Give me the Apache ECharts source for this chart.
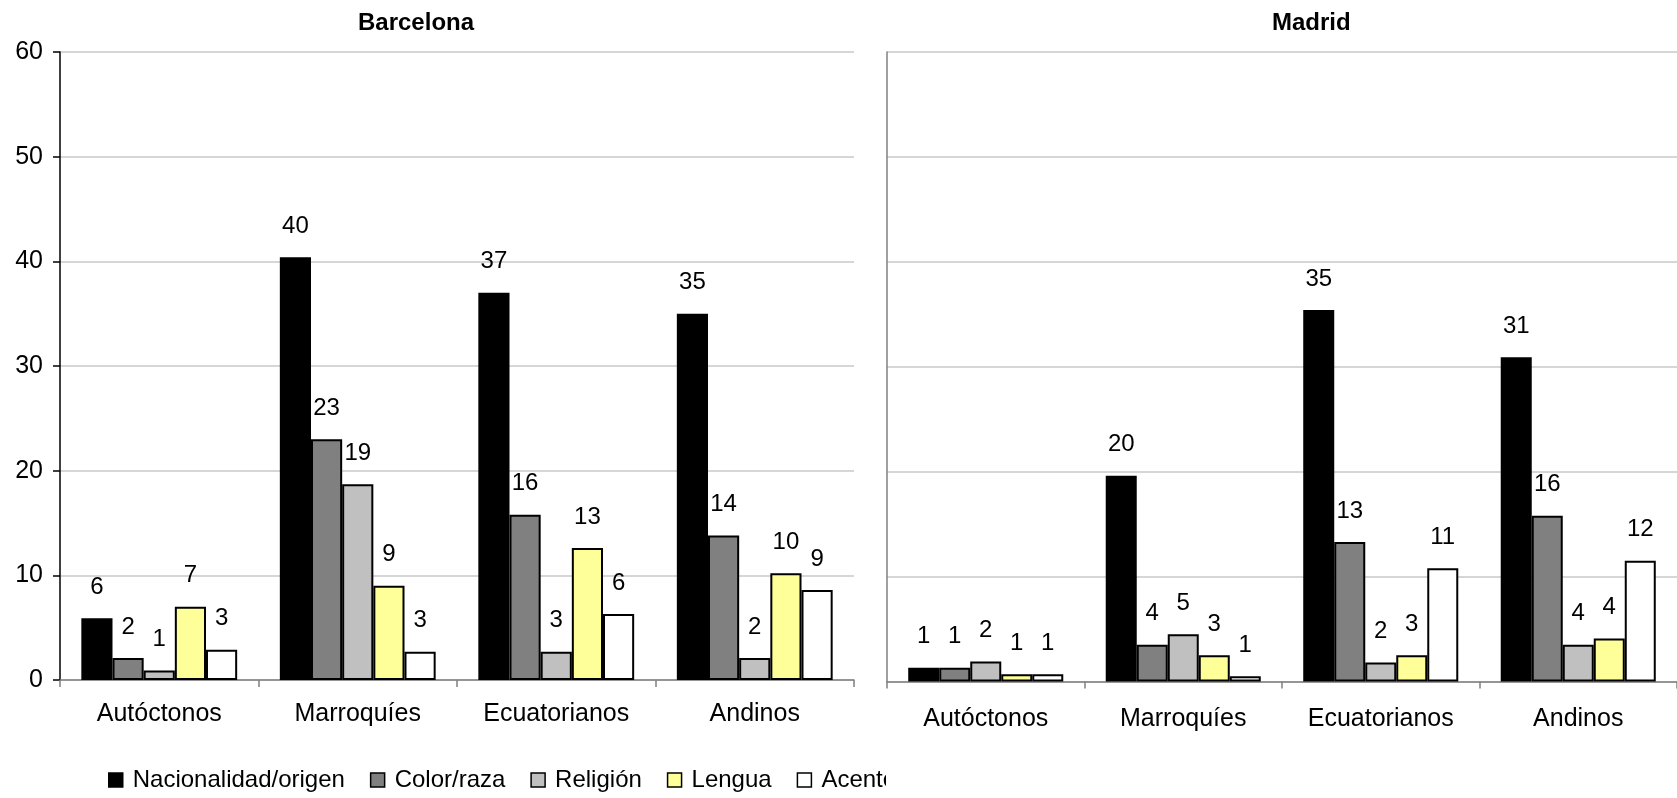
<!DOCTYPE html>
<html>
<head>
<meta charset="utf-8">
<script src="https://cdn.jsdelivr.net/npm/echarts@6/dist/echarts.min.js"></script>
<style>html,body{margin:0;padding:0;background:#fff;}#c{width:1677px;height:798px;}</style>
</head>
<body>
<div id="c"></div>
<script>
const categories = ['Autóctonos', 'Marroquíes', 'Ecuatorianos', 'Andinos'];
const seriesNames = ['Nacionalidad/origen', 'Color/raza', 'Religión', 'Lengua', 'Acento'];
const yTicks = [0, 10, 20, 30, 40, 50, 60];

const barcelonaNacionalidad = [5.9, 40.4, 37.0, 35.0];
const barcelonaColor = [2.1, 23.0, 15.8, 13.8];
const barcelonaReligion = [0.9, 18.7, 2.7, 2.1];
const barcelonaLengua = [7.0, 9.0, 12.6, 10.2];
const barcelonaAcento = [2.9, 2.7, 6.3, 8.6];

const madridNacionalidad = [1.3, 19.6, 35.4, 30.9];
const madridColor = [1.3, 3.5, 13.3, 15.8];
const madridReligion = [1.9, 4.5, 1.8, 3.5];
const madridLengua = [0.7, 2.5, 2.5, 4.1];
const madridAcento = [0.7, 0.5, 10.8, 11.5];

const colors = ['#000000', '#808080', '#C0C0C0', '#FFFF99', '#FFFFFF'];
const FONT = "'Liberation Sans', Arial, sans-serif";

const barcelonaData = [barcelonaNacionalidad, barcelonaColor, barcelonaReligion, barcelonaLengua, barcelonaAcento];
const madridData = [madridNacionalidad, madridColor, madridReligion, madridLengua, madridAcento];

function makeSeries(dataSets, idx) {
  return dataSets.map((d, i) => ({
    name: seriesNames[i],
    type: 'bar',
    xAxisIndex: idx,
    yAxisIndex: idx,
    data: d,
    barGap: '0%',
    barCategoryGap: '21.5%',
    itemStyle: { color: colors[i], borderColor: '#000', borderWidth: 2 },
    label: {
      show: true,
      position: 'top',
      distance: 19,
      color: '#000',
      fontSize: 24,
      fontFamily: FONT,
      formatter: p => String(Math.round(p.value))
    },
    emphasis: { disabled: true },
    animation: false
  }));
}

const chart = echarts.init(document.getElementById('c'));
chart.setOption({
  animation: false,
  backgroundColor: '#fff',
  textStyle: { fontFamily: FONT },
  grid: [
    { left: 60, top: 52, width: 794, height: 628 },
    { left: 887, top: 52, width: 804, height: 629.5 }
  ],
  xAxis: [
    {
      type: 'category', gridIndex: 0, data: categories,
      axisLine: { lineStyle: { color: '#808080', width: 1.5 } },
      axisTick: { show: true, length: 7, lineStyle: { color: '#808080', width: 1.5 } },
      axisLabel: { fontSize: 25, color: '#000', margin: 22, fontFamily: FONT }
    },
    {
      type: 'category', gridIndex: 1, data: categories,
      axisLine: { lineStyle: { color: '#808080', width: 1.5 } },
      axisTick: { show: true, length: 7, lineStyle: { color: '#808080', width: 1.5 } },
      axisLabel: { fontSize: 25, color: '#000', margin: 25, fontFamily: FONT }
    }
  ],
  yAxis: [
    {
      type: 'value', gridIndex: 0, min: yTicks[0], max: yTicks[yTicks.length - 1], interval: 10,
      axisLine: { show: true, lineStyle: { color: '#000', width: 1.5 } },
      axisTick: { show: true, length: 7, lineStyle: { color: '#000', width: 1.5 } },
      axisLabel: { fontSize: 25, color: '#000', margin: 17, fontFamily: FONT },
      splitLine: { show: true, lineStyle: { color: '#c8c8c8', width: 1.5 } }
    },
    {
      type: 'value', gridIndex: 1, min: yTicks[0], max: yTicks[yTicks.length - 1], interval: 10,
      axisLine: { show: true, lineStyle: { color: '#808080', width: 1.5 } },
      axisTick: { show: false },
      axisLabel: { show: false },
      splitLine: { show: true, lineStyle: { color: '#c8c8c8', width: 1.5 } }
    }
  ],
  legend: {
    data: seriesNames,
    left: 108,
    top: 768,
    padding: 0,
    orient: 'horizontal',
    icon: 'rect',
    itemWidth: 14,
    itemHeight: 14,
    itemGap: 25,
    itemStyle: { borderColor: '#000', borderWidth: 1.5 },
    textStyle: { fontSize: 24, color: '#000', fontFamily: FONT, padding: [0, 0, 0, 5] },
    selectedMode: false
  },
  graphic: [
    { type: 'text', left: 358, top: 11, z: 10,
      style: { text: 'Barcelona', fontSize: 24, fontWeight: 'bold', fill: '#000', font: "bold 24px 'Liberation Sans', Arial, sans-serif" } },
    { type: 'text', left: 1272, top: 11, z: 10,
      style: { text: 'Madrid', fontSize: 24, fontWeight: 'bold', fill: '#000', font: "bold 24px 'Liberation Sans', Arial, sans-serif" } },
    { type: 'rect', left: 886, top: 762, z: 100,
      shape: { width: 800, height: 36 }, style: { fill: '#fff' } }
  ],
  series: makeSeries(barcelonaData, 0).concat(makeSeries(madridData, 1))
});
</script>
</body>
</html>
